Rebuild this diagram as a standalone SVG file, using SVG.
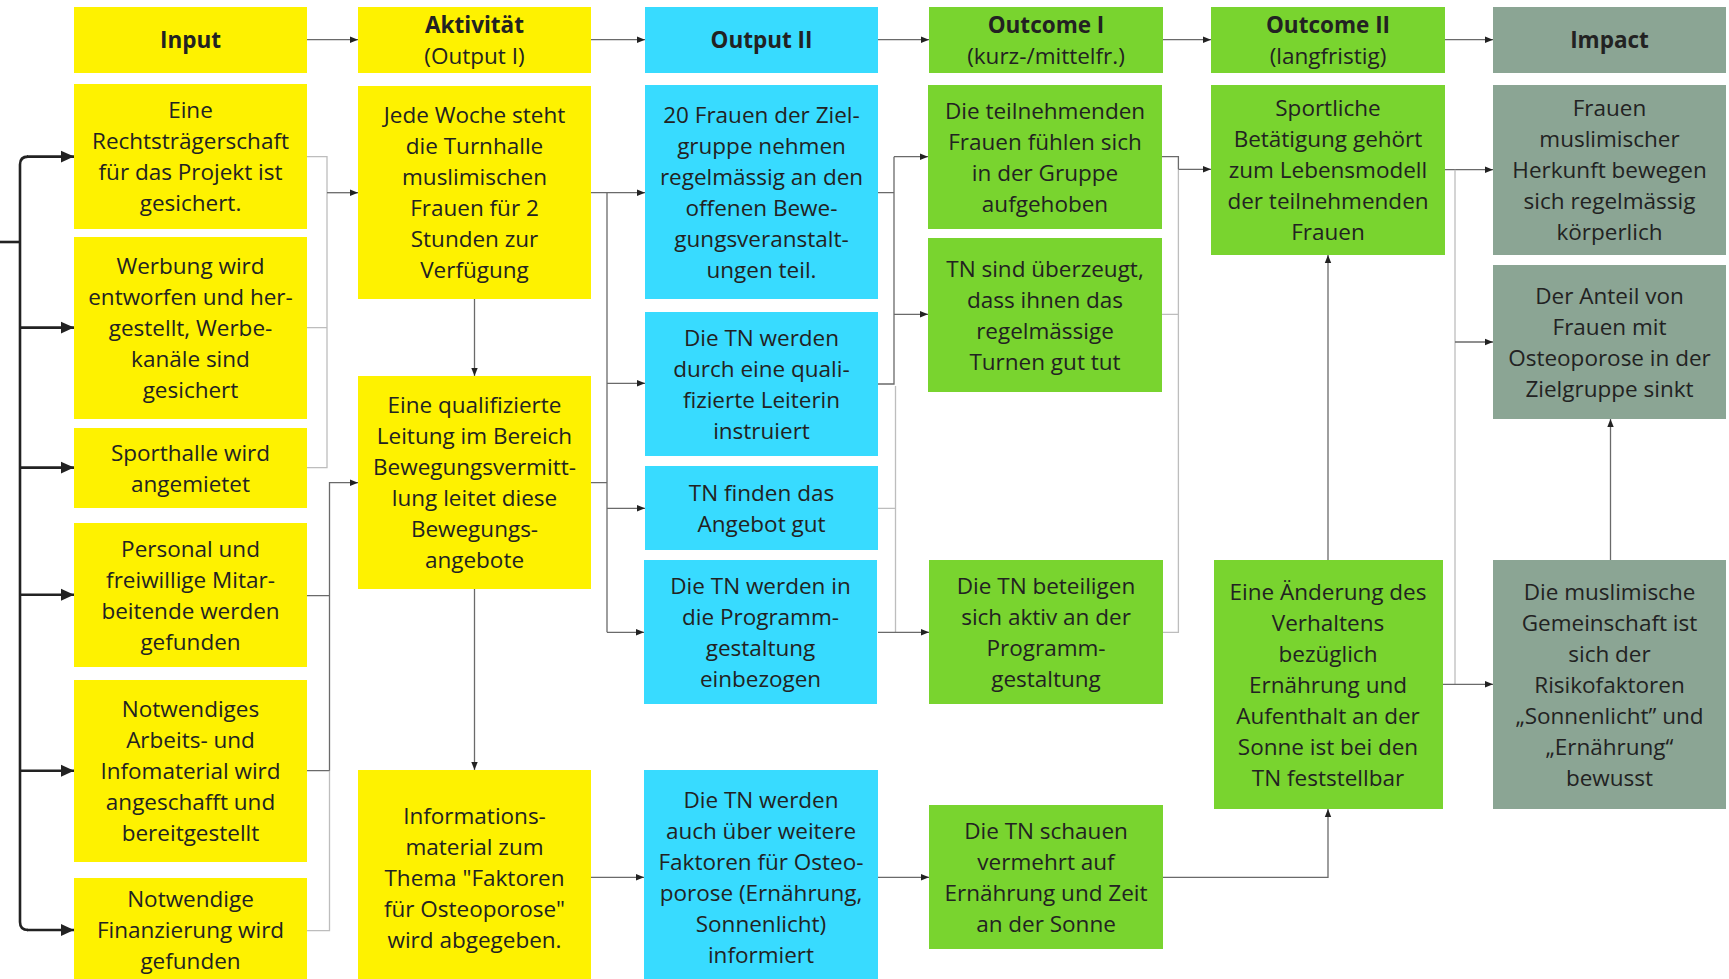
<svg xmlns="http://www.w3.org/2000/svg" width="1729" height="979" viewBox="0 0 1729 979">
<style>
.t{font-family:"Open Sans","Noto Sans","Liberation Sans",sans-serif;font-size:22.5px;text-anchor:middle;fill:#222}
.b{font-weight:bold}
.y{fill:#FEF200}
.c{fill:#38DBFF}
.g{fill:#79D42F}
.i{fill:#8BA594}
.ln{fill:none;stroke:#6a6a6a;stroke-width:1.3}
.lt{fill:none;stroke:#bdbdbd;stroke-width:1.3}
.br{fill:none;stroke:#222;stroke-width:2.6}
</style>
<defs>
<marker id="a" viewBox="0 0 8 8" refX="8" refY="4" markerWidth="8" markerHeight="8" markerUnits="userSpaceOnUse" orient="auto"><path d="M0,0.8 L8,4 L0,7.2 z" fill="#222"/></marker>
<marker id="k" viewBox="0 0 12 12" refX="12" refY="6" markerWidth="13" markerHeight="13" markerUnits="userSpaceOnUse" orient="auto"><path d="M0,0.5 L12,6 L0,11.5 z" fill="#222"/></marker>
</defs>
<rect width="1729" height="979" fill="#fff"/>

<g id="connectors">
<path class="br" d="M0,242 H20"/>
<path class="br" d="M28,156.6 Q20,156.6 20,164.6 V922 Q20,930 28,930"/>
<path class="br" d="M27,156.6 H74" marker-end="url(#k)"/>
<path class="br" d="M20,327.6 H74" marker-end="url(#k)"/>
<path class="br" d="M20,467.6 H74" marker-end="url(#k)"/>
<path class="br" d="M20,594.8 H74" marker-end="url(#k)"/>
<path class="br" d="M20,770.7 H74" marker-end="url(#k)"/>
<path class="br" d="M27,930 H74" marker-end="url(#k)"/>

<path class="ln" d="M307,39.7 H358" marker-end="url(#a)"/>
<path class="ln" d="M591,39.7 H645" marker-end="url(#a)"/>
<path class="ln" d="M878,39.7 H929" marker-end="url(#a)"/>
<path class="ln" d="M1163,39.7 H1211" marker-end="url(#a)"/>
<path class="ln" d="M1445,39.7 H1493" marker-end="url(#a)"/>

<path class="lt" d="M307,156.6 H327 V467.7 H307 M307,327.6 H327"/>
<path class="ln" d="M327,192.7 H358" marker-end="url(#a)"/>
<path class="ln" d="M307,595.7 H329.5 M307,770.7 H329.5"/>
<path class="lt" d="M307,930.7 H329.5 V770.7"/>
<path class="ln" d="M329.5,770.7 V482.7 H358" marker-end="url(#a)"/>

<path class="ln" d="M474.5,299 V376" marker-end="url(#a)"/>
<path class="ln" d="M474.5,589 V770" marker-end="url(#a)"/>

<path class="ln" d="M591,192.7 H607 V632.3 M591,482.7 H607"/>
<path class="ln" d="M607,192.7 H645" marker-end="url(#a)"/>
<path class="ln" d="M607,383.3 H645" marker-end="url(#a)"/>
<path class="ln" d="M607,508.3 H645" marker-end="url(#a)"/>
<path class="ln" d="M607,632.3 H644" marker-end="url(#a)"/>
<path class="ln" d="M591,877.3 H644" marker-end="url(#a)"/>

<path class="ln" d="M878,192.7 H894 M878,384 H894 V156.7"/>
<path class="ln" d="M894,156.7 H928" marker-end="url(#a)"/>
<path class="ln" d="M894,314.3 H928" marker-end="url(#a)"/>
<path class="lt" d="M878,508.3 H895.5 M895.5,386 V632.3"/>
<path class="ln" d="M878,632.3 H929" marker-end="url(#a)"/>
<path class="ln" d="M878,877.3 H929" marker-end="url(#a)"/>

<path class="ln" d="M1162,156.7 H1178.4 V169.3"/>
<path class="lt" d="M1178.4,169.3 V632.3 H1163 M1162,314.3 H1178.4"/>
<path class="ln" d="M1178.4,169.3 H1211" marker-end="url(#a)"/>
<path class="ln" d="M1163,877.3 H1328 V809" marker-end="url(#a)"/>
<path class="ln" d="M1328,560 V255" marker-end="url(#a)"/>

<path class="ln" d="M1445,169.7 H1493" marker-end="url(#a)"/>
<path class="lt" d="M1455,169.7 V684.3"/>
<path class="ln" d="M1455,342 H1493" marker-end="url(#a)"/>
<path class="ln" d="M1443,684.3 H1493" marker-end="url(#a)"/>
<path class="ln" d="M1610.5,560 V419" marker-end="url(#a)"/>
</g>

<g id="h-input"><rect class="y" x="74" y="7" width="233" height="66"/><text class="t b"><tspan x="190.5" y="48">Input</tspan></text></g>
<g id="h-akt"><rect class="y" x="358" y="7" width="233" height="66"/><text class="t"><tspan class="b" x="474.5" y="32.5">Aktivität</tspan><tspan x="474.5" y="63.5">(Output I)</tspan></text></g>
<g id="h-out2"><rect class="c" x="645" y="7" width="233" height="66"/><text class="t b"><tspan x="761.5" y="48">Output II</tspan></text></g>
<g id="h-oc1"><rect class="g" x="929" y="7" width="234" height="66"/><text class="t"><tspan class="b" x="1046" y="32.5">Outcome I</tspan><tspan x="1046" y="63.5">(kurz-/mittelfr.)</tspan></text></g>
<g id="h-oc2"><rect class="g" x="1211" y="7" width="234" height="66"/><text class="t"><tspan class="b" x="1328" y="32.5">Outcome II</tspan><tspan x="1328" y="63.5">(langfristig)</tspan></text></g>
<g id="h-imp"><rect class="i" x="1493" y="7" width="233" height="66"/><text class="t b"><tspan x="1609.5" y="48">Impact</tspan></text></g>

<g id="in1"><rect class="y" x="74" y="84" width="233" height="145"/><text class="t"><tspan x="190.5" y="118">Eine</tspan><tspan x="190.5" y="149">Rechtsträgerschaft</tspan><tspan x="190.5" y="180">für das Projekt ist</tspan><tspan x="190.5" y="211">gesichert.</tspan></text></g>
<g id="in2"><rect class="y" x="74" y="237" width="233" height="182"/><text class="t"><tspan x="190.5" y="274">Werbung wird</tspan><tspan x="190.5" y="305">entworfen und her-</tspan><tspan x="190.5" y="336">gestellt, Werbe-</tspan><tspan x="190.5" y="367">kanäle sind</tspan><tspan x="190.5" y="398">gesichert</tspan></text></g>
<g id="in3"><rect class="y" x="74" y="428" width="233" height="80"/><text class="t"><tspan x="190.5" y="460.5">Sporthalle wird</tspan><tspan x="190.5" y="491.5">angemietet</tspan></text></g>
<g id="in4"><rect class="y" x="74" y="523" width="233" height="144"/><text class="t"><tspan x="190.5" y="556.5">Personal und</tspan><tspan x="190.5" y="587.5">freiwillige Mitar-</tspan><tspan x="190.5" y="618.5">beitende werden</tspan><tspan x="190.5" y="649.5">gefunden</tspan></text></g>
<g id="in5"><rect class="y" x="74" y="680" width="233" height="182"/><text class="t"><tspan x="190.5" y="717">Notwendiges</tspan><tspan x="190.5" y="748">Arbeits- und</tspan><tspan x="190.5" y="779">Infomaterial wird</tspan><tspan x="190.5" y="810">angeschafft und</tspan><tspan x="190.5" y="841">bereitgestellt</tspan></text></g>
<g id="in6"><rect class="y" x="74" y="878" width="233" height="104"/><text class="t"><tspan x="190.5" y="907">Notwendige</tspan><tspan x="190.5" y="938">Finanzierung wird</tspan><tspan x="190.5" y="969">gefunden</tspan></text></g>

<g id="ak1"><rect class="y" x="358" y="86" width="233" height="213"/><text class="t"><tspan x="474.5" y="123">Jede Woche steht</tspan><tspan x="474.5" y="154">die Turnhalle</tspan><tspan x="474.5" y="185">muslimischen</tspan><tspan x="474.5" y="216">Frauen für 2</tspan><tspan x="474.5" y="247">Stunden zur</tspan><tspan x="474.5" y="278">Verfügung</tspan></text></g>
<g id="ak2"><rect class="y" x="358" y="376" width="233" height="213"/><text class="t"><tspan x="474.5" y="413">Eine qualifizierte</tspan><tspan x="474.5" y="444">Leitung im Bereich</tspan><tspan x="474.5" y="475">Bewegungsvermitt-</tspan><tspan x="474.5" y="506">lung leitet diese</tspan><tspan x="474.5" y="537">Bewegungs-</tspan><tspan x="474.5" y="568">angebote</tspan></text></g>
<g id="ak3"><rect class="y" x="358" y="770" width="233" height="216"/><text class="t"><tspan x="474.5" y="824">Informations-</tspan><tspan x="474.5" y="855">material zum</tspan><tspan x="474.5" y="886">Thema "Faktoren</tspan><tspan x="474.5" y="917">für Osteoporose"</tspan><tspan x="474.5" y="948">wird abgegeben.</tspan></text></g>

<g id="o1"><rect class="c" x="645" y="85" width="233" height="214"/><text class="t"><tspan x="761.5" y="122.5">20 Frauen der Ziel-</tspan><tspan x="761.5" y="153.5">gruppe nehmen</tspan><tspan x="761.5" y="184.5">regelmässig an den</tspan><tspan x="761.5" y="215.5">offenen Bewe-</tspan><tspan x="761.5" y="246.5">gungsveranstalt-</tspan><tspan x="761.5" y="277.5">ungen teil.</tspan></text></g>
<g id="o2"><rect class="c" x="645" y="312" width="233" height="144"/><text class="t"><tspan x="761.5" y="345.5">Die TN werden</tspan><tspan x="761.5" y="376.5">durch eine quali-</tspan><tspan x="761.5" y="407.5">fizierte Leiterin</tspan><tspan x="761.5" y="438.5">instruiert</tspan></text></g>
<g id="o3"><rect class="c" x="645" y="466" width="233" height="84"/><text class="t"><tspan x="761.5" y="500.5">TN finden das</tspan><tspan x="761.5" y="531.5">Angebot gut</tspan></text></g>
<g id="o4"><rect class="c" x="644" y="560" width="233" height="144"/><text class="t"><tspan x="760.5" y="593.5">Die TN werden in</tspan><tspan x="760.5" y="624.5">die Programm-</tspan><tspan x="760.5" y="655.5">gestaltung</tspan><tspan x="760.5" y="686.5">einbezogen</tspan></text></g>
<g id="o5"><rect class="c" x="644" y="770" width="234" height="215"/><text class="t"><tspan x="761" y="808">Die TN werden</tspan><tspan x="761" y="839">auch über weitere</tspan><tspan x="761" y="870">Faktoren für Osteo-</tspan><tspan x="761" y="901">porose (Ernährung,</tspan><tspan x="761" y="932">Sonnenlicht)</tspan><tspan x="761" y="963">informiert</tspan></text></g>

<g id="c1"><rect class="g" x="928" y="85" width="234" height="144"/><text class="t"><tspan x="1045" y="118.5">Die teilnehmenden</tspan><tspan x="1045" y="149.5">Frauen fühlen sich</tspan><tspan x="1045" y="180.5">in der Gruppe</tspan><tspan x="1045" y="211.5">aufgehoben</tspan></text></g>
<g id="c2"><rect class="g" x="928" y="238" width="234" height="154"/><text class="t"><tspan x="1045" y="276.5">TN sind überzeugt,</tspan><tspan x="1045" y="307.5">dass ihnen das</tspan><tspan x="1045" y="338.5">regelmässige</tspan><tspan x="1045" y="369.5">Turnen gut tut</tspan></text></g>
<g id="c3"><rect class="g" x="929" y="560" width="234" height="144"/><text class="t"><tspan x="1046" y="593.5">Die TN beteiligen</tspan><tspan x="1046" y="624.5">sich aktiv an der</tspan><tspan x="1046" y="655.5">Programm-</tspan><tspan x="1046" y="686.5">gestaltung</tspan></text></g>
<g id="c4"><rect class="g" x="929" y="805" width="234" height="144"/><text class="t"><tspan x="1046" y="838.5">Die TN schauen</tspan><tspan x="1046" y="869.5">vermehrt auf</tspan><tspan x="1046" y="900.5">Ernährung und Zeit</tspan><tspan x="1046" y="931.5">an der Sonne</tspan></text></g>

<g id="d1"><rect class="g" x="1211" y="85" width="234" height="170"/><text class="t"><tspan x="1328" y="116">Sportliche</tspan><tspan x="1328" y="147">Betätigung gehört</tspan><tspan x="1328" y="178">zum Lebensmodell</tspan><tspan x="1328" y="209">der teilnehmenden</tspan><tspan x="1328" y="240">Frauen</tspan></text></g>
<g id="d2"><rect class="g" x="1214" y="560" width="229" height="249"/><text class="t"><tspan x="1328" y="599.5">Eine Änderung des</tspan><tspan x="1328" y="630.5">Verhaltens</tspan><tspan x="1328" y="661.5">bezüglich</tspan><tspan x="1328" y="692.5">Ernährung und</tspan><tspan x="1328" y="723.5">Aufenthalt an der</tspan><tspan x="1328" y="754.5">Sonne ist bei den</tspan><tspan x="1328" y="785.5">TN feststellbar</tspan></text></g>

<g id="im1"><rect class="i" x="1493" y="85" width="233" height="170"/><text class="t"><tspan x="1609.5" y="116">Frauen</tspan><tspan x="1609.5" y="147">muslimischer</tspan><tspan x="1609.5" y="178">Herkunft bewegen</tspan><tspan x="1609.5" y="209">sich regelmässig</tspan><tspan x="1609.5" y="240">körperlich</tspan></text></g>
<g id="im2"><rect class="i" x="1493" y="265" width="233" height="154"/><text class="t"><tspan x="1609.5" y="303.5">Der Anteil von</tspan><tspan x="1609.5" y="334.5">Frauen mit</tspan><tspan x="1609.5" y="365.5">Osteoporose in der</tspan><tspan x="1609.5" y="396.5">Zielgruppe sinkt</tspan></text></g>
<g id="im3"><rect class="i" x="1493" y="560" width="233" height="249"/><text class="t"><tspan x="1609.5" y="599.5">Die muslimische</tspan><tspan x="1609.5" y="630.5">Gemeinschaft ist</tspan><tspan x="1609.5" y="661.5">sich der</tspan><tspan x="1609.5" y="692.5">Risikofaktoren</tspan><tspan x="1609.5" y="723.5">„Sonnenlicht” und</tspan><tspan x="1609.5" y="754.5">„Ernährung“</tspan><tspan x="1609.5" y="785.5">bewusst</tspan></text></g>
</svg>
